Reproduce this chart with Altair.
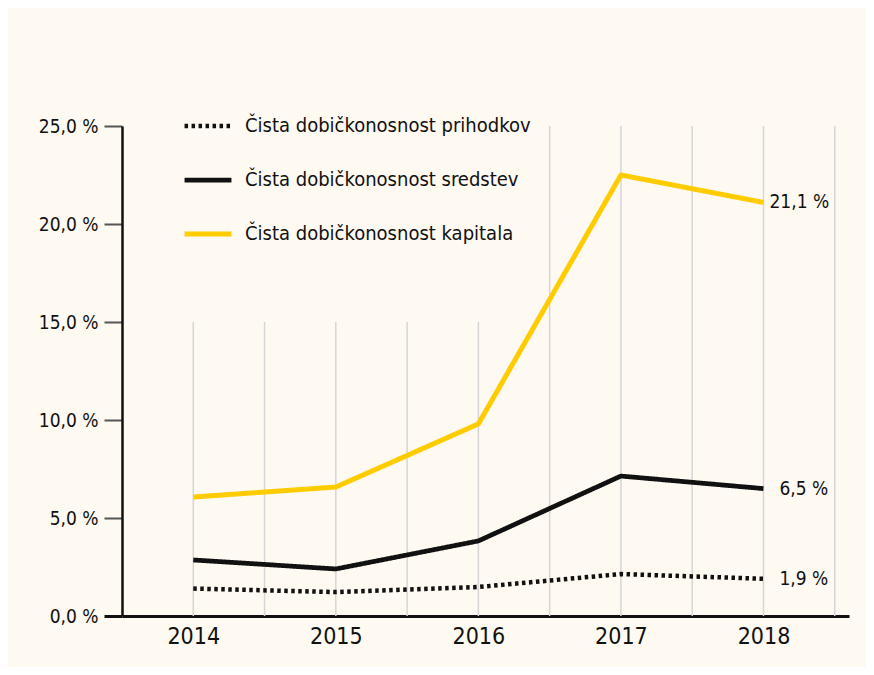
import altair as alt
import pandas as pd

years = [2014, 2015, 2016, 2017, 2018]
series_names = [
    "Čista dobičkonosnost prihodkov",
    "Čista dobičkonosnost sredstev",
    "Čista dobičkonosnost kapitala",
]
prihodkov = [1.4, 1.22, 1.48, 2.14, 1.9]
sredstev = [2.86, 2.4, 3.83, 7.14, 6.5]
kapitala = [6.07, 6.58, 9.8, 22.5, 21.1]
end_labels = ["1,9 %", "6,5 %", "21,1 %"]
y_ticks = [0, 5, 10, 15, 20, 25]
grid_x = [2014, 2014.5, 2015, 2015.5, 2016, 2016.5, 2017, 2017.5, 2018, 2018.5]
grid_top = [15, 15, 15, 15, 15, 25, 25, 25, 25, 25]

FONT = "DejaVu Sans Condensed, Roboto Condensed, Roboto, sans-serif"
series_values = [prihodkov, sredstev, kapitala]
rows = []
for name, vals in zip(series_names, series_values):
    for yr, v in zip(years, vals):
        rows.append({"series": name, "year": yr, "value": v})
df = pd.DataFrame(rows)

lab_rows = []
for name, vals, lab in zip(series_names, series_values, end_labels):
    lab_rows.append({"series": name, "year": years[-1], "value": vals[-1], "label": lab})
labels_df = pd.DataFrame(lab_rows)

grid_df = pd.DataFrame({"x": grid_x, "y0": [0] * len(grid_x), "y1": grid_top})

x_scale = alt.Scale(domain=[2013.5, 2018.6], nice=False, zero=False)
y_scale = alt.Scale(domain=[0, 25], nice=False)

x_axis = alt.Axis(
    values=years, format="d", ticks=False, domainColor="#111111",
    domainWidth=3, labelPadding=9, labelFontSize=23, labelFont=FONT,
    labelColor="#111111", grid=False, title=None,
)
y_axis = alt.Axis(
    values=y_ticks,
    labelExpr="replace(format(datum.value, '.1f'), '.', ',') + ' %'",
    domainColor="#111111", domainWidth=2.5, tickSize=18,
    tickWidth={"condition": {"test": "datum.value === 0", "value": 3}, "value": 2},
    tickColor={"condition": {"test": "datum.value === 0", "value": "#111111"}, "value": "#555555"},
    labelPadding=6, labelFontSize=19, labelFont=FONT, labelColor="#111111",
    grid=False, title=None,
)

grid = alt.Chart(grid_df).mark_rule(color="#D6D6D6", strokeWidth=1.5).encode(
    x=alt.X("x:Q", scale=x_scale, axis=x_axis),
    y=alt.Y("y0:Q", scale=y_scale, axis=y_axis),
    y2="y1:Q",
)

lines = alt.Chart(df).mark_line(strokeCap="butt", strokeJoin="round").encode(
    x=alt.X("year:Q", scale=x_scale, axis=x_axis),
    y=alt.Y("value:Q", scale=y_scale, axis=y_axis),
    color=alt.Color(
        "series:N",
        scale=alt.Scale(domain=series_names, range=["#111111", "#111111", "#FFCC00"]),
        sort=series_names,
        legend=alt.Legend(title=None, orient="none", legendX=60, legendY=-26,
                          symbolType="stroke", symbolSize=2200, labelFont=FONT,
                          labelFontSize=20, labelColor="#111111", labelOffset=11,
                          labelLimit=500, rowPadding=18),
    ),
    strokeDash=alt.StrokeDash(
        "series:N",
        scale=alt.Scale(domain=series_names, range=[[3.5, 3.5], [1, 0], [1, 0]]),
        sort=series_names,
        legend=alt.Legend(title=None),
    ),
    strokeWidth=alt.StrokeWidth(
        "series:N",
        scale=alt.Scale(domain=series_names, range=[4.5, 5, 5]),
        sort=series_names,
        legend=alt.Legend(title=None),
    ),
)

text_base = alt.Chart(labels_df).encode(
    x=alt.X("year:Q", scale=x_scale, axis=x_axis),
    y=alt.Y("value:Q", scale=y_scale, axis=y_axis),
    text="label:N",
)
text_kap = text_base.transform_filter(alt.datum.series == series_names[2]).mark_text(
    align="left", baseline="middle", font=FONT, fontSize=19, color="#111111", dx=6
)
text_other = text_base.transform_filter(alt.datum.series != series_names[2]).mark_text(
    align="left", baseline="middle", font=FONT, fontSize=19, color="#111111", dx=16
)

chart = alt.layer(grid, lines, text_kap, text_other).properties(
    width=727,
    height=490,
    background="#FEF9F1",
    padding={"left": 114, "top": 118, "right": 17, "bottom": 51},
    autosize=alt.AutoSizeParams(type="none"),
).configure_view(stroke=None)

chart.save("out.html", embed_options={"renderer": "svg", "actions": False})
